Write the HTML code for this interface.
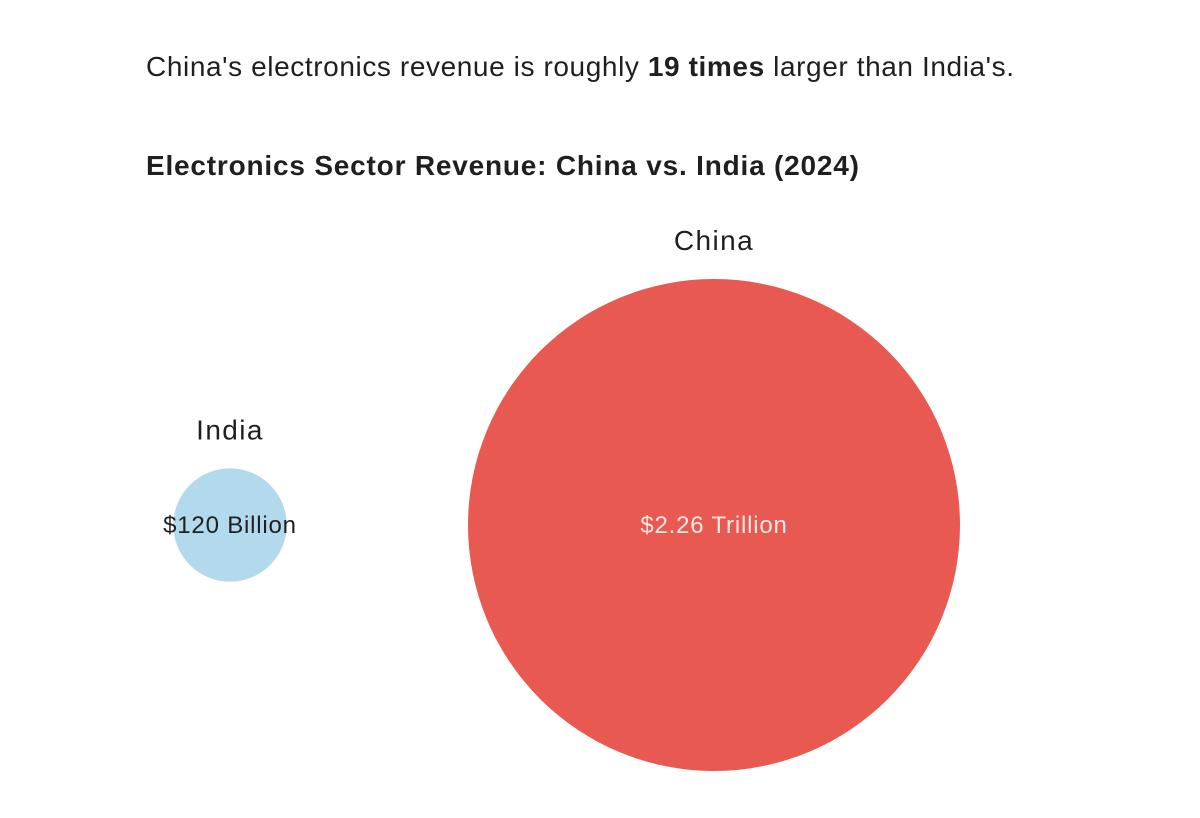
<!DOCTYPE html>
<html><head><meta charset="utf-8"><style>
body{margin:0;width:1200px;height:818px;background:#fff;font-family:"Liberation Sans",sans-serif;color:#1f1f1f;overflow:hidden}
#sub{position:absolute;left:146px;top:51px;font-size:28px;letter-spacing:0.6px}
#title{position:absolute;left:146px;top:150px;font-size:28px;font-weight:bold;letter-spacing:0.8px}
svg{position:absolute;left:0;top:0}
</style></head><body>
<div id="sub">China's electronics revenue is roughly <b>19 times</b> larger than India's.</div>
<div id="title">Electronics Sector Revenue: China vs. India (2024)</div>
<svg id="chart" width="1200" height="818"></svg>
<script>
const categories=["India","China"];
const values=[120,2260];
const valueLabels=["$120 Billion","$2.26 Trillion"];
const colors=["#b3d9ed","#e85a51"];
const textColors=["#1f1f1f","#fde8e6"];
const centersX=[230,714];
const baseY=525;
const maxR=246;
const maxV=Math.max(...values);
function rScale(v){return maxR*Math.sqrt(v/maxV);}
const svg=document.getElementById('chart');
const NS="http://www.w3.org/2000/svg";
categories.forEach((c,i)=>{
  const r=rScale(values[i]);
  const circ=document.createElementNS(NS,'circle');
  circ.setAttribute('cx',centersX[i]);circ.setAttribute('cy',baseY);circ.setAttribute('r',r);
  circ.setAttribute('fill',colors[i]);
  
  
  svg.appendChild(circ);
  const lab=document.createElementNS(NS,'text');
  lab.setAttribute('x',centersX[i]);lab.setAttribute('y',baseY-r-29);
  lab.setAttribute('text-anchor','middle');lab.setAttribute('font-size','28');lab.setAttribute('fill','#1f1f1f');
  lab.setAttribute('letter-spacing','1.4');
  lab.setAttribute('font-family','Liberation Sans, sans-serif');
  lab.textContent=c;
  
  
  svg.appendChild(lab);
  const vl=document.createElementNS(NS,'text');
  vl.setAttribute('x',centersX[i]);vl.setAttribute('y',baseY+8);
  vl.setAttribute('text-anchor','middle');vl.setAttribute('font-size','24');vl.setAttribute('fill',textColors[i]);
  vl.setAttribute('letter-spacing','0.8');
  vl.setAttribute('font-family','Liberation Sans, sans-serif');
  vl.textContent=valueLabels[i];
  
  
  svg.appendChild(vl);
});
</script>
</body></html>
